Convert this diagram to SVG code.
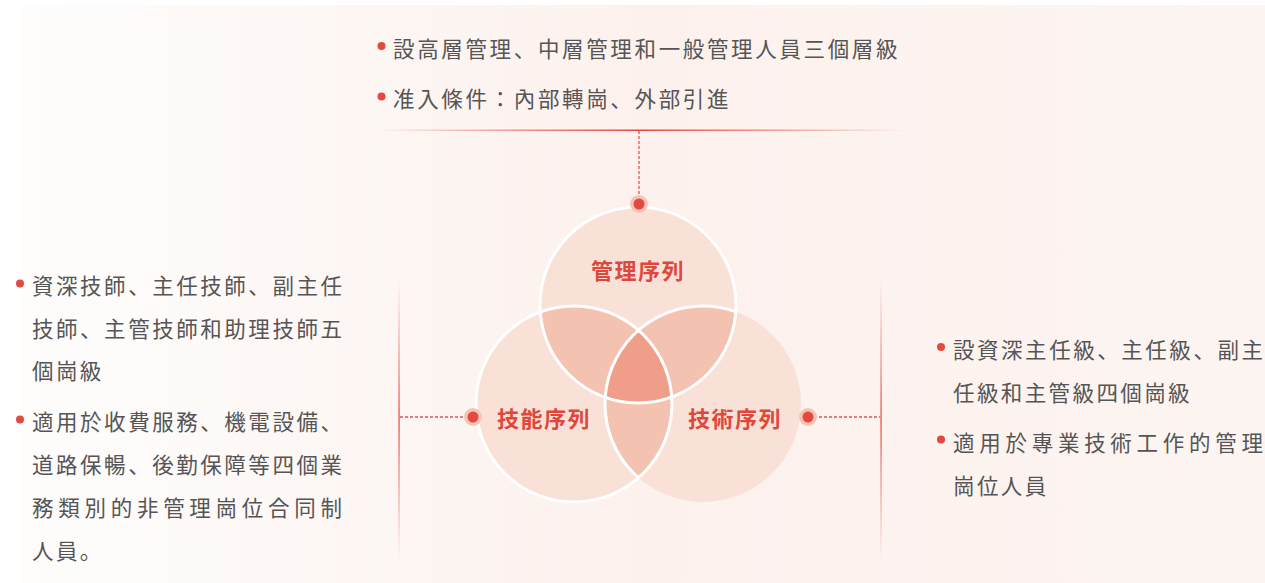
<svg xmlns="http://www.w3.org/2000/svg" width="1265" height="583" viewBox="0 0 1265 583">
<defs>
<style>
.body{font-family:"Noto Sans CJK JP","Noto Sans CJK TC",sans-serif;font-size:21.5px;letter-spacing:2.4px;fill:#555555;}
.top{letter-spacing:2.65px;}
.just{letter-spacing:0px;}
.lbl{font-family:"Noto Sans CJK JP","Noto Sans CJK TC",sans-serif;font-size:22px;font-weight:bold;letter-spacing:1.5px;fill:#e0473c;}
.bullet{fill:#e5483e;}
.dash{stroke:#e2544b;stroke-width:1.3;stroke-dasharray:3 2;fill:none;}
.halo{fill:#f6c4b6;}
.dot{fill:#e24a3f;}
.single{fill:#f9e1d8;}
.pair{fill:#f4c2b0;}
.triple{fill:#ee9e89;}
.ring{fill:none;stroke:#ffffff;stroke-width:3;}
</style>
<linearGradient id="bg" x1="0" y1="0" x2="1" y2="0">
<stop offset="0" stop-color="#fefdfc"/>
<stop offset="0.5" stop-color="#fcf1ed"/>
<stop offset="1" stop-color="#fdf5f2"/>
</linearGradient>
<linearGradient id="hline" x1="0" y1="0" x2="1" y2="0">
<stop offset="0" stop-color="#e8453c" stop-opacity="0"/>
<stop offset="0.5" stop-color="#e8453c" stop-opacity="1"/>
<stop offset="1" stop-color="#e8453c" stop-opacity="0"/>
</linearGradient>
<linearGradient id="vline" x1="0" y1="0" x2="0" y2="1">
<stop offset="0" stop-color="#e8574f" stop-opacity="0"/>
<stop offset="0.5" stop-color="#e8574f" stop-opacity="0.9"/>
<stop offset="1" stop-color="#e8574f" stop-opacity="0"/>
</linearGradient>
<circle id="cT" cx="638" cy="305" r="98"/>
<circle id="cL" cx="574" cy="404" r="98"/>
<circle id="cR" cx="703" cy="404" r="98"/>
<clipPath id="clipT"><use href="#cT"/></clipPath>
<clipPath id="clipL"><use href="#cL"/></clipPath>
<clipPath id="clipR"><use href="#cR"/></clipPath>
<clipPath id="clipTL"><use href="#cT"/><use href="#cL"/></clipPath>
</defs>

<rect x="20" y="5" width="1245" height="578" fill="url(#bg)"/>

<g id="connectors">
<rect x="375" y="129.5" width="530" height="1.5" fill="url(#hline)"/>
<line class="dash" x1="639" y1="131" x2="639" y2="198"/>
<rect x="398.3" y="280" width="1.5" height="280" fill="url(#vline)"/>
<line class="dash" x1="400" y1="417" x2="466" y2="417"/>
<rect x="880.3" y="280" width="1.5" height="280" fill="url(#vline)"/>
<line class="dash" x1="814" y1="417" x2="880" y2="417"/>
</g>

<g id="venn">
<use href="#cR" class="single"/>
<use href="#cL" class="single"/>
<use href="#cT" class="single"/>
<g clip-path="url(#clipR)"><use href="#cL" class="pair"/></g>
<g clip-path="url(#clipT)"><use href="#cL" class="pair"/></g>
<g clip-path="url(#clipT)"><use href="#cR" class="pair"/></g>
<g clip-path="url(#clipT)"><g clip-path="url(#clipL)"><use href="#cR" class="triple"/></g></g>
<g clip-path="url(#clipTL)"><use href="#cR" class="ring"/></g>
<use href="#cL" class="ring"/>
<use href="#cT" class="ring"/>
</g>

<g id="node-management">
<circle class="halo" cx="639" cy="204" r="9"/>
<circle class="dot" cx="639" cy="204" r="5.5"/>
<text class="lbl" x="591" y="279">管理序列</text>
<circle class="bullet" cx="381.5" cy="46" r="4"/>
<text class="body top" x="393" y="57">設高層管理、中層管理和一般管理人員三個層級</text>
<circle class="bullet" cx="381.5" cy="96.5" r="4"/>
<text class="body top" x="393" y="107">准入條件：內部轉崗、外部引進</text>
</g>

<g id="node-skill">
<circle class="halo" cx="473" cy="417" r="9"/>
<circle class="dot" cx="473" cy="417" r="5.5"/>
<text class="lbl" x="497" y="427">技能序列</text>
<circle class="bullet" cx="20" cy="283.5" r="4"/>
<text class="body just" x="32" y="294" textLength="310" lengthAdjust="spacing">資深技師、主任技師、副主任</text>
<text class="body just" x="32" y="337" textLength="310" lengthAdjust="spacing">技師、主管技師和助理技師五</text>
<text class="body" x="32" y="379">個崗級</text>
<circle class="bullet" cx="20" cy="419.5" r="4"/>
<text class="body just" x="32" y="430" textLength="310" lengthAdjust="spacing">適用於收費服務、機電設備、</text>
<text class="body just" x="32" y="473" textLength="310" lengthAdjust="spacing">道路保暢、後勤保障等四個業</text>
<text class="body just" x="32" y="516" textLength="310" lengthAdjust="spacing">務類別的非管理崗位合同制</text>
<text class="body" x="32" y="559">人員。</text>
</g>

<g id="node-tech">
<circle class="halo" cx="808" cy="417" r="9"/>
<circle class="dot" cx="808" cy="417" r="5.5"/>
<text class="lbl" x="688" y="427">技術序列</text>
<circle class="bullet" cx="941" cy="347" r="4"/>
<text class="body just" x="953" y="358" textLength="310" lengthAdjust="spacing">設資深主任級、主任級、副主</text>
<text class="body" x="953" y="401">任級和主管級四個崗級</text>
<circle class="bullet" cx="941" cy="439.5" r="4"/>
<text class="body just" x="953" y="451" textLength="310" lengthAdjust="spacing">適用於專業技術工作的管理</text>
<text class="body" x="953" y="494">崗位人員</text>
</g>
</svg>
